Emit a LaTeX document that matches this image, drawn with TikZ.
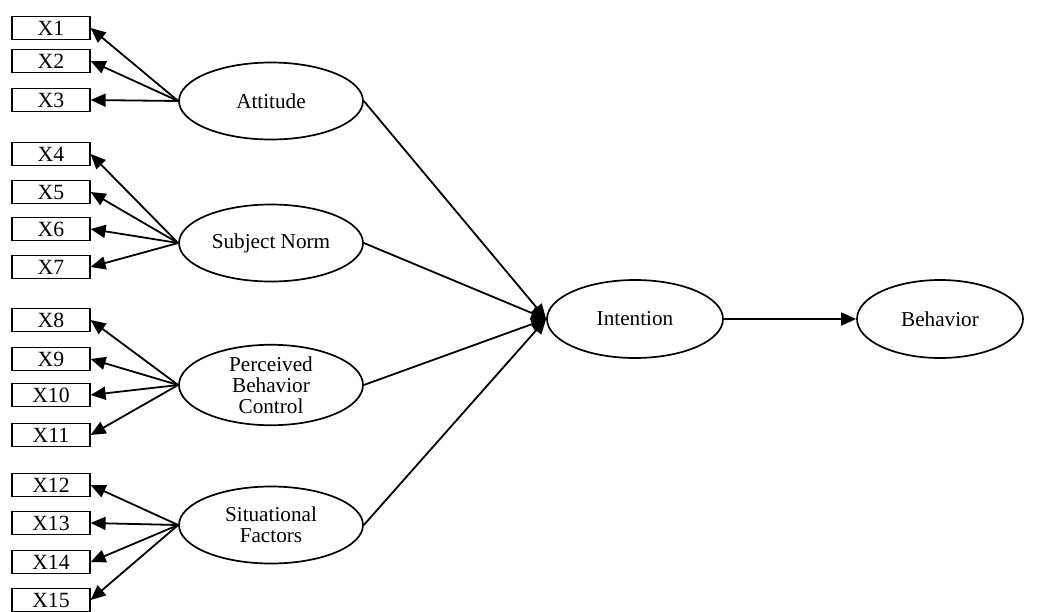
\documentclass[tikz,border=0pt]{standalone}
\usepackage{fontspec}
\setmainfont{Liberation Serif}
\usetikzlibrary{shapes.geometric,arrows.meta}
\begin{document}
\begin{tikzpicture}[x=1pt,y=-1pt,
  ind/.style={draw,line width=1.2pt,minimum width=78pt,minimum height=23pt,inner sep=0pt,font=\fontsize{21.7}{21}\selectfont},
  lat/.style={draw,ellipse,line width=1.7pt,minimum width=184pt,minimum height=77pt,inner sep=0pt,align=center,font=\fontsize{21.2}{21}\selectfont},
  arr/.style={line width=1.8pt,-{Triangle[length=15pt,width=13pt]}}]
\useasboundingbox (0,0) rectangle (1045,611);
% indicators
\foreach \n/\y in {1/28,2/61,3/100,4/154,5/192,6/229,7/267,8/320,9/359,10/395,11/435,12/485,13/523,14/562,15/600}
  \node[ind] (x\n) at (51,\y) {X\n};
% latents
\node[lat] (att) at (271,101) {Attitude};
\node[lat] (sn)  at (271,243) {Subject Norm};
\node[lat] (pbc) at (271,385) {Perceived\\Behavior\\Control};
\node[lat] (sf)  at (271,525) {Situational\\Factors};
\node[lat,minimum width=176pt,minimum height=78pt] (int) at (635,319) {Intention};
\node[lat,minimum width=166pt,minimum height=78pt] (beh) at (940,319) {Behavior};
% loadings
\foreach \i in {1,2,3} \draw[arr] (att.west) -- (x\i.east);
\foreach \i in {4,5,6,7} \draw[arr] (sn.west) -- (x\i.east);
\foreach \i in {8,9,10,11} \draw[arr] (pbc.west) -- (x\i.east);
\foreach \i in {12,13,14,15} \draw[arr] (sf.west) -- (x\i.east);
% structural paths
\foreach \l in {att,sn,pbc,sf} \draw[arr] (\l.east) -- (int.west);
\draw[arr] (int.east) -- (beh.west);
\end{tikzpicture}
\end{document}
